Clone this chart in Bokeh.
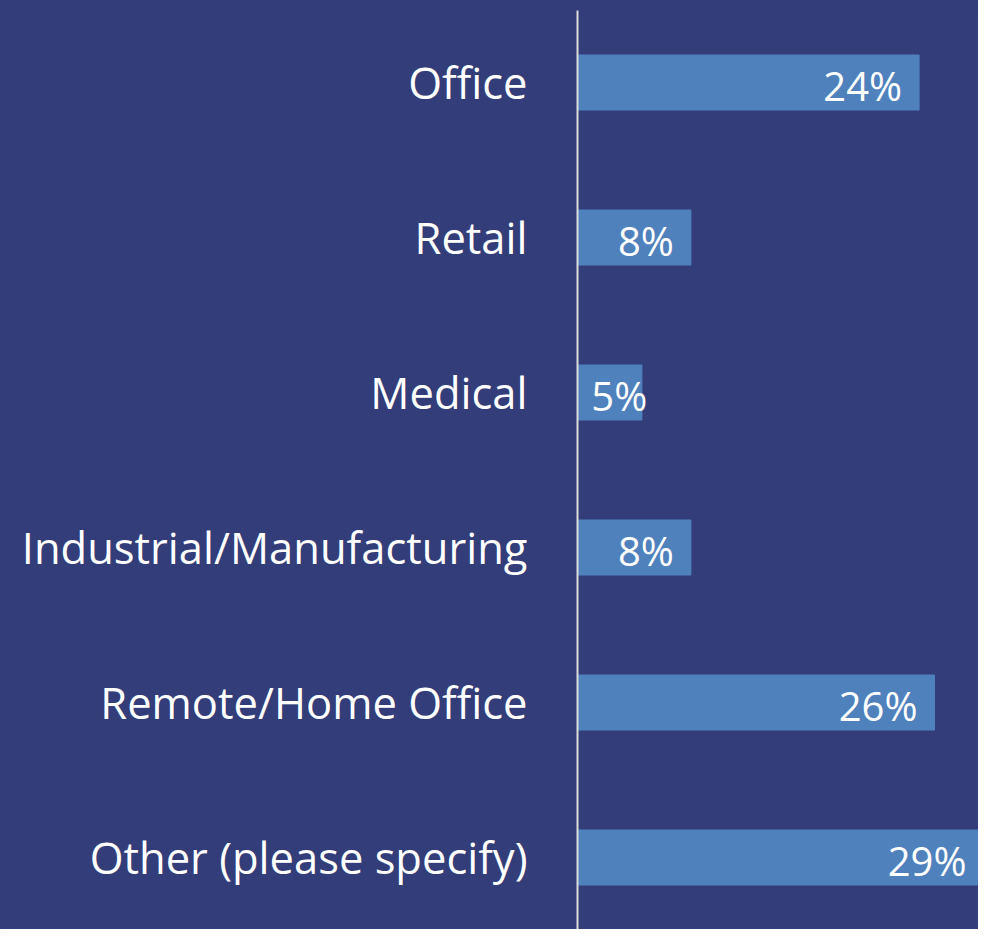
from bokeh.plotting import figure
from bokeh.models import Range1d, FactorRange, ColumnDataSource
from bokeh.core.properties import value
from bokeh.embed import file_html
from bokeh.resources import INLINE

categories = ["Office", "Retail", "Medical", "Industrial/Manufacturing",
              "Remote/Home Office", "Other (please specify)"]
values = [24.4, 8.1, 4.6, 8.1, 25.5, 29.0]
labels = ["24%", "8%", "5%", "8%", "26%", "29%"]

BG = "#323d79"
BAR = "#4f81bd"

label_x = [max(v, 6.2) for v in values]
src = ColumnDataSource(dict(cat=categories, val=values, lab=labels, lx=label_x))

p = figure(width=978, height=929, output_backend="svg", toolbar_location=None,
           y_range=FactorRange(*reversed(categories), range_padding=-0.0355,
                               range_padding_units="absolute"),
           x_range=Range1d(0, 401 / 14), min_border=0, min_border_left=577,
           min_border_right=0, min_border_top=10, min_border_bottom=0)
p.styles = {"background-color": BG}
p.background_fill_color = BG
p.border_fill_color = BG
p.outline_line_color = None
p.grid.visible = False
p.xaxis.visible = False

p.hbar(y="cat", right="val", left=0, height=0.355, source=src,
       fill_color=BAR, line_color=BAR)
p.text(x="lx", y="cat", text="lab", source=src, x_offset=-17, y_offset=3,
       text_align="right", text_baseline="middle", text_color="white",
       text_font=value("Open Sans"), text_font_size="40px")

ax = p.yaxis[0]
ax.axis_line_color = "#dcdcdc"
ax.axis_line_width = 2
ax.major_tick_line_color = None
ax.minor_tick_line_color = None
ax.major_tick_out = 0
ax.major_tick_in = 0
ax.major_label_standoff = 50
ax.major_label_text_color = "white"
ax.major_label_text_font = "Open Sans"
ax.major_label_text_font_size = "43.5px"

open("out.html", "w").write(file_html(p, INLINE))
